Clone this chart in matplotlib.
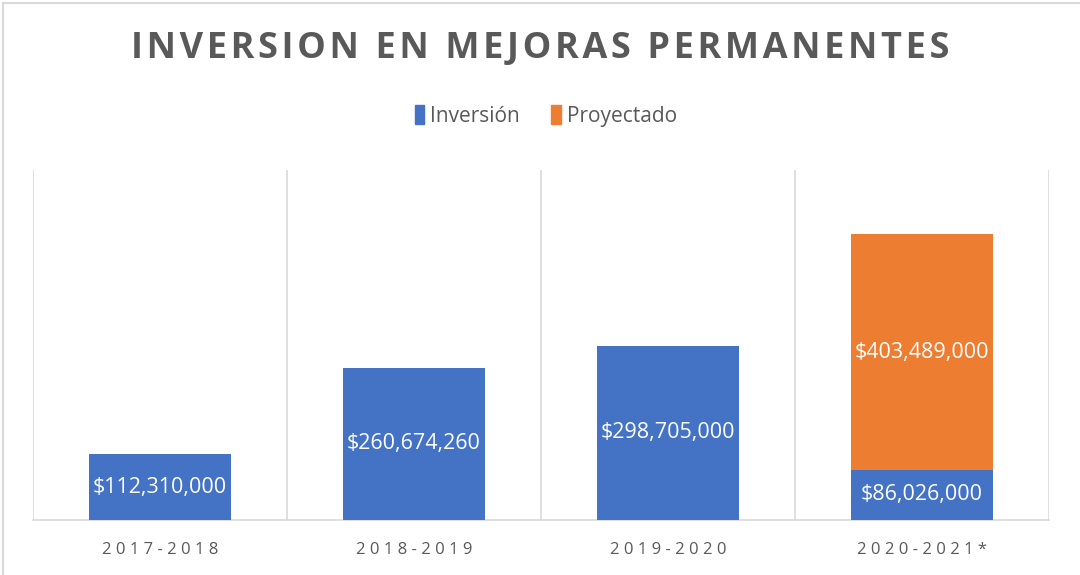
import matplotlib
matplotlib.use("Agg")
import matplotlib.pyplot as plt
from matplotlib.lines import Line2D
from matplotlib.patches import Patch

categories = ["2017-2018", "2018-2019", "2019-2020", "2020-2021*"]
inversion = [112310000, 260674260, 298705000, 86026000]
proyectado = [0, 0, 0, 403489000]
title = "INVERSION EN MEJORAS PERMANENTES"
series_names = ["Inversión", "Proyectado"]

BLUE = "#4472C4"
ORANGE = "#ED7D31"
GRAY = "#595959"
GRID = "#D9D9D9"

plt.rcParams['font.family'] = ['Open Sans', 'DejaVu Sans']

def spaced(s, sep="\u2009"):
    return sep.join(list(s))

fig = plt.figure(figsize=(10.8, 5.75), dpi=100)
ax = fig.add_axes([33/1080, 1-520/575, (1049-33)/1080, 350/575])

x = list(range(len(categories)))
width = 0.56
ax.bar(x, inversion, width=width, color=BLUE, zorder=3)
ax.bar(x, proyectado, width=width, bottom=inversion, color=ORANGE, zorder=3)

for i, v in enumerate(inversion):
    ax.text(i, v/2, f"${v:,.0f}", ha="center", va="center", color="white",
            fontsize=15.5, zorder=4)
for i, v in enumerate(proyectado):
    if v > 0:
        ax.text(i, inversion[i] + v/2, f"${v:,.0f}", ha="center", va="center",
                color="white", fontsize=15.5, zorder=4)

ax.set_xlim(-0.5, len(categories) - 0.5)
ax.set_ylim(0, 600000000)
ax.set_yticks([])
ax.set_xticks(x)
ax.set_xticklabels([spaced(c, "\u2009\u200a") for c in categories], color=GRAY, fontsize=12)
ax.tick_params(axis="x", length=0, pad=16)

for b in [i - 0.5 for i in range(len(categories) + 1)]:
    ax.axvline(b, color=GRID, lw=1.2, zorder=1)

for s in ["top", "right", "left"]:
    ax.spines[s].set_visible(False)
ax.spines["bottom"].set_color(GRID)
ax.spines["bottom"].set_linewidth(1.2)

fig.text(540/1080, 1-49/575, spaced(title, "\u200a"), ha="center", va="center",
         fontsize=26, fontweight="bold", color=GRAY)

handles = [Patch(color=BLUE), Patch(color=ORANGE)]
fig.legend(handles, series_names, loc="center", bbox_to_anchor=(546/1080, 1-116/575),
           ncol=2, frameon=False, fontsize=15, handlelength=0.45, handleheight=1.0,
           handletextpad=0.3, columnspacing=1.5, labelcolor=GRAY)

# chart area border (left and top visible)
fig.add_artist(Line2D([2.5/1080, 2.5/1080], [0, 1-2.5/575], transform=fig.transFigure, color=GRID, lw=1.5))
fig.add_artist(Line2D([2.5/1080, 1], [1-2.5/575, 1-2.5/575], transform=fig.transFigure, color=GRID, lw=1.5))

fig.savefig("out.png", dpi=100)
